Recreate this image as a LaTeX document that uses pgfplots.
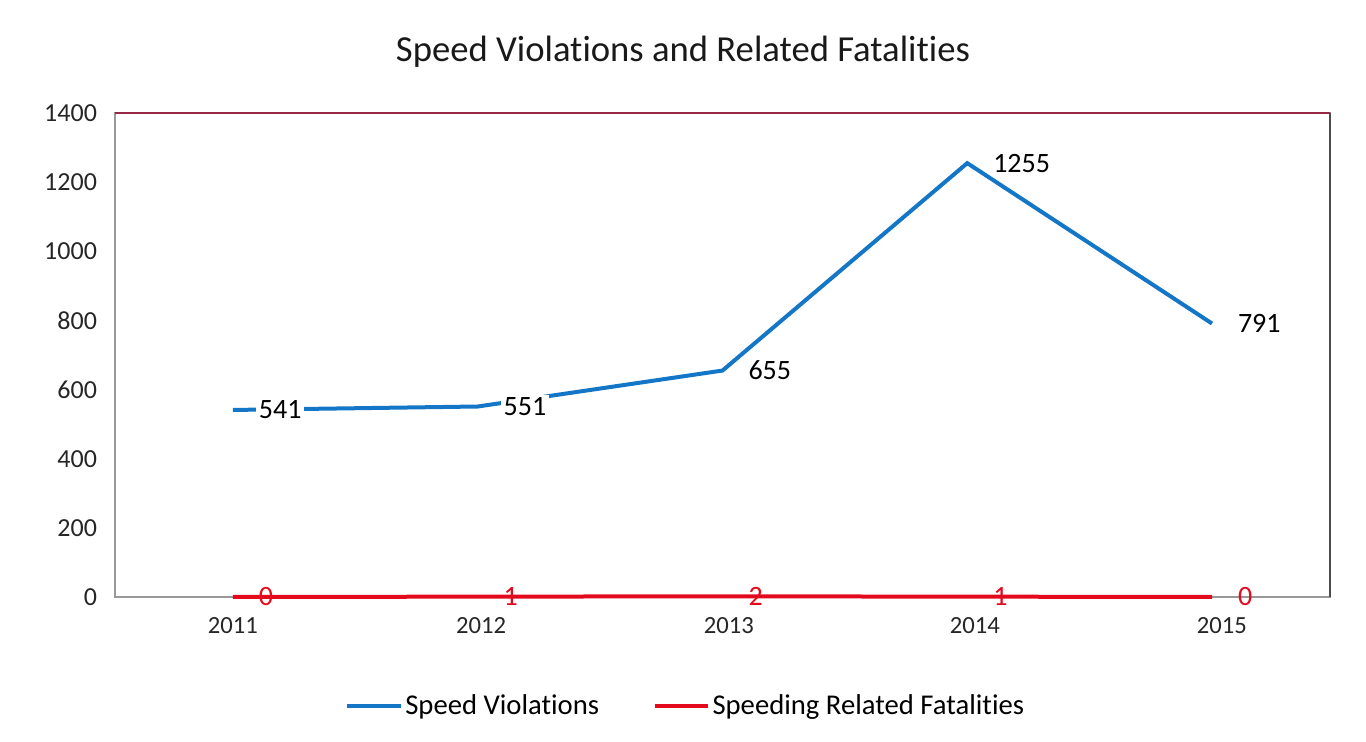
\documentclass[border=0pt]{standalone}
\usepackage{pgfplots}
\pgfplotsset{compat=1.18}
\usepackage{fontspec}
\setmainfont{Carlito}[Ligatures=NoCommon]
\definecolor{sblue}{RGB}{20,118,198}
\definecolor{sred}{RGB}{228,10,30}
\definecolor{maroon}{RGB}{150,40,70}
\begin{document}
\begin{tikzpicture}[x=0.75pt,y=0.75pt]
\begin{axis}[
  scale only axis,
  width=911.25pt, height=363pt,
  xmin=-0.482, xmax=4.482,
  ymin=0, ymax=1400,
  xtick={0,1.014,2.026,3.031,4.04},
  xticklabels={2011,2012,2013,2014,2015},
  ytick={0,200,400,600,800,1000,1200,1400},
  major tick length=0pt,
  axis line style={draw=gray!80, line width=0.8pt},
  tick label style={text=black!85},
  xticklabel style={font=\fontsize{18.5}{20}\selectfont, yshift=-12pt},
  yticklabel style={font=\fontsize{19.5}{21}\selectfont, xshift=-10pt},
  /pgf/number format/assume math mode=true,
  /pgf/number format/1000 sep={},
  legend style={at={(0.47,-0.225)}, anchor=center, draw=none, legend columns=2,
    font=\fontsize{21.5}{24}\selectfont, /tikz/every even column/.append style={column sep=38pt}},
  legend image code/.code={\draw[#1, line width=3pt] (0pt,0pt) -- (40pt,0pt);},
  clip=false,
]
\addplot[sblue, line width=3pt, mark=none,
  nodes near coords, point meta=y,
  every node near coord/.style={anchor=west, fill=white, inner sep=2pt, xshift=16pt, yshift=0pt,
    font=\fontsize{21}{24}\selectfont, text=black}]
  coordinates {(0,541) (1,551) (2,655) (3,1255) (4,791)};
\addlegendentry{Speed Violations}
\addplot[sred, line width=3pt, mark=none,
  nodes near coords, point meta=y,
  every node near coord/.style={anchor=west, inner sep=0pt, xshift=18pt, yshift=0pt,
    font=\fontsize{21}{24}\selectfont, text=sred}]
  coordinates {(0,0) (1,1) (2,2) (3,1) (4,0)};
\addlegendentry{Speeding Related Fatalities}
\draw[maroon, line width=1pt] (rel axis cs:0,1) -- (rel axis cs:1,1);
\draw[black!70, line width=1pt] (rel axis cs:1,0) -- (rel axis cs:1,1);
\end{axis}
\node[font=\fontsize{27.5}{30}\selectfont, text=black!90] at ([xshift=426pt, yshift=45.75pt]current axis.north west) {Speed Violations and Related Fatalities};
\useasboundingbox ([xshift=-86.25pt, yshift=-108.75pt]current axis.south west) rectangle ([xshift=27pt, yshift=84.75pt]current axis.north east);
\end{tikzpicture}
\end{document}
